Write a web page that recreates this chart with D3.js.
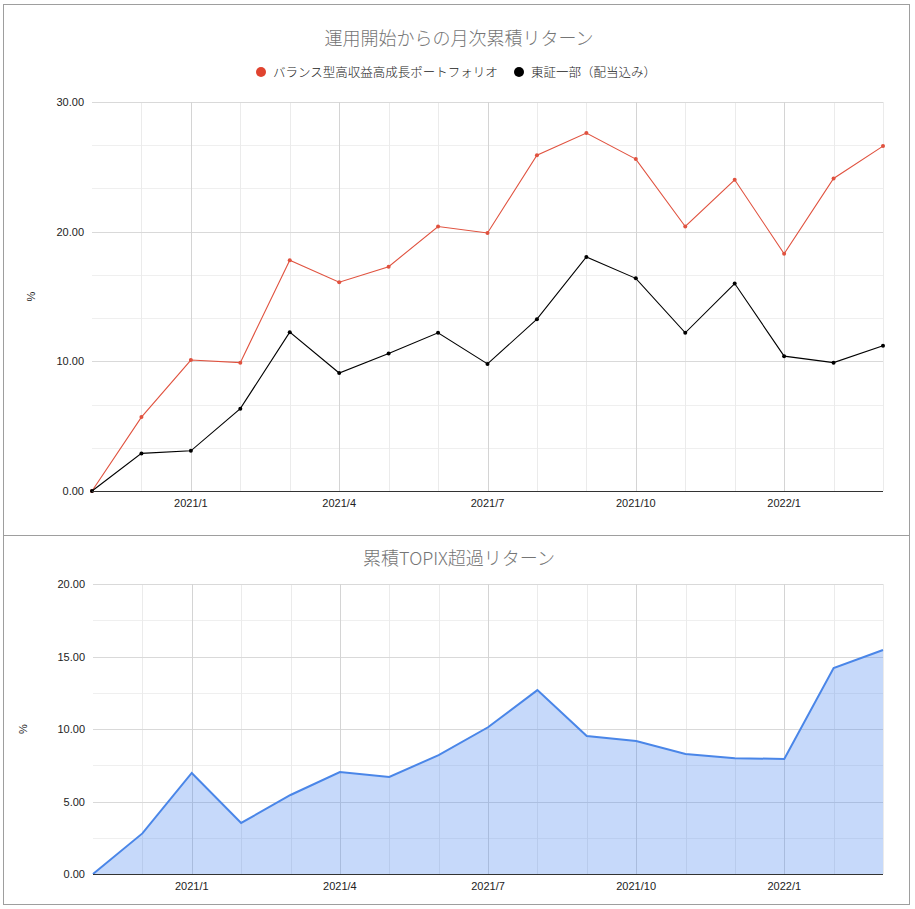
<!DOCTYPE html>
<meta charset="utf-8">
<title>累積リターン</title>
<style>
  body { margin: 0; background: #fff; }
  svg { display: block; font-family: "Liberation Sans", Arial, "Noto Sans CJK JP", sans-serif; }
</style>
<svg id="chart"></svg>
<script src="https://d3js.org/d3.v7.min.js"></script>
<script>
  // data
  var months = ["2020/11", "2020/12", "2021/1", "2021/2", "2021/3", "2021/4", "2021/5", "2021/6",
    "2021/7", "2021/8", "2021/9", "2021/10", "2021/11", "2021/12", "2022/1", "2022/2", "2022/3"];
  var tickMonths = ["2021/1", "2021/4", "2021/7", "2021/10", "2022/1"];
  var portfolio = [0, 5.7, 10.1, 9.9, 17.8, 16.1, 17.3, 20.4, 19.9, 25.9, 27.6, 25.6, 20.4, 24.0, 18.3, 24.1, 26.6];
  var topix = [0, 2.9, 3.1, 6.35, 12.25, 9.1, 10.6, 12.2, 9.8, 13.25, 18.05, 16.4, 12.2, 16.0, 10.4, 9.9, 11.2];
  var excess = [0, 2.8, 6.97, 3.52, 5.45, 7.03, 6.69, 8.2, 10.12, 12.68, 9.52, 9.17, 8.28, 7.99, 7.93, 14.2, 15.45];
  var seriesNames = ["バランス型高収益高成長ポートフォリオ", "東証一部（配当込み）"];
  var topTitle = "運用開始からの月次累積リターン";
  var bottomTitle = "累積TOPIX超過リターン";

  var W = 915, H = 909;
  var svg = d3.select('#chart').attr("width", W).attr("height", H);

  // boxes
  svg.append("rect").attr("x", 3.5).attr("y", 4.5).attr("width", 906).attr("height", 531)
    .attr("fill", "none").attr("stroke", "#9e9e9e");
  svg.append("rect").attr("x", 3.5).attr("y", 535.5).attr("width", 906).attr("height", 369)
    .attr("fill", "none").attr("stroke", "#9e9e9e");

  function drawFrame(x, y, yMajor, yMinor, titleText, titleY, pctX) {
    var g = svg.append("g");
    var x0 = x.range()[0], x1 = x.range()[1];
    var yb = y.range()[0];

    // minor grid
    g.selectAll(".hminor").data(yMinor).enter().append("line")
      .attr("x1", x0).attr("x2", x1)
      .attr("y1", function(d) {return Math.round(y(d)) + 0.5;})
      .attr("y2", function(d) {return Math.round(y(d)) + 0.5;})
      .attr("stroke", "#efefef");
    g.selectAll(".vminor").data(months.slice(1)).enter().append("line")
      .attr("x1", function(d) {return Math.round(x(d)) + 0.5;})
      .attr("x2", function(d) {return Math.round(x(d)) + 0.5;})
      .attr("y1", y.range()[1]).attr("y2", yb)
      .attr("stroke", "#ebebeb");
    // major grid
    g.selectAll(".hmajor").data(yMajor.slice(1)).enter().append("line")
      .attr("x1", x0).attr("x2", x1)
      .attr("y1", function(d) {return Math.round(y(d)) + 0.5;})
      .attr("y2", function(d) {return Math.round(y(d)) + 0.5;})
      .attr("stroke", "#d9d9d9");
    g.selectAll(".vmajor").data(tickMonths).enter().append("line")
      .attr("x1", function(d) {return Math.round(x(d)) + 0.5;})
      .attr("x2", function(d) {return Math.round(x(d)) + 0.5;})
      .attr("y1", y.range()[1]).attr("y2", yb)
      .attr("stroke", "#d4d4d4");

    // y labels
    g.selectAll(".ylab").data(yMajor).enter().append("text")
      .attr("x", x0 - 8).attr("y", function(d) {return y(d) + 4;})
      .attr("text-anchor", "end").attr("font-size", 11).attr("fill", "#222")
      .text(function(d) {return d3.format(".2f")(d);});
    // x labels
    g.selectAll(".xlab").data(tickMonths).enter().append("text")
      .attr("x", function(d) {return x(d);}).attr("y", yb + 16)
      .attr("text-anchor", "middle").attr("font-size", 11).attr("fill", "#222")
      .text(function(d) {return d;});

    // title
    svg.append("text").attr("x", 459).attr("y", titleY)
      .attr("text-anchor", "middle").attr("font-size", 18).attr("fill", "#757575")
      .attr("font-weight", 300)
      .style("font-family", "'Noto Sans CJK JP', sans-serif")
      .text(titleText);
    // axis title
    svg.append("text")
      .attr("transform", "translate(" + pctX + "," + ((y.range()[0] + y.range()[1]) / 2) + ") rotate(-90)")
      .attr("text-anchor", "middle").attr("font-size", 11).attr("fill", "#222")
      .text("%");
    return g;
  }

  function baseline(x, y) {
    svg.append("line").attr("x1", x.range()[0]).attr("x2", x.range()[1])
      .attr("y1", Math.round(y(0)) + 0.5).attr("y2", Math.round(y(0)) + 0.5)
      .attr("stroke", "#333");
  }

  // top chart
  var xTop = d3.scalePoint().domain(months).range([92, 883]);
  var yTop = d3.scaleLinear().domain([0, 30]).range([491, 102]);
  drawFrame(xTop, yTop, [0, 10, 20, 30], d3.range(1, 9).map(function(i) {return i * 10 / 3;}), topTitle, 45, 35);

  var lineTop = d3.line()
    .x(function(d, i) {return xTop(months[i]);})
    .y(function(d) {return yTop(d);});

  var seriesTop = [
    {values: portfolio, color: "#e0523f"},
    {values: topix, color: "#000"}
  ];
  seriesTop.forEach(function(s) {
    svg.append("path").attr("d", lineTop(s.values))
      .attr("fill", "none").attr("stroke", s.color).attr("stroke-width", 1.1);
    svg.selectAll(null).data(s.values).enter().append("circle")
      .attr("cx", function(d, i) {return xTop(months[i]);})
      .attr("cy", function(d) {return yTop(d);})
      .attr("r", 2).attr("fill", s.color);
  });
  baseline(xTop, yTop);

  // legend
  var legendX = [261, 519];
  var legendColors = ["#e0432f", "#000"];
  seriesNames.forEach(function(n, i) {
    svg.append("circle").attr("cx", legendX[i]).attr("cy", 72).attr("r", 5).attr("fill", legendColors[i]);
    svg.append("text").attr("x", legendX[i] + 12).attr("y", 77)
      .attr("font-size", 12.5).attr("fill", "#222").attr("font-weight", 300)
      .style("font-family", "'Noto Sans CJK JP', sans-serif")
      .text(n);
  });

  // bottom chart
  var xBot = d3.scalePoint().domain(months).range([93, 883]);
  var yBot = d3.scaleLinear().domain([0, 20]).range([874, 584]);
  drawFrame(xBot, yBot, [0, 5, 10, 15, 20], [2.5, 7.5, 12.5, 17.5], bottomTitle, 565, 27);

  var area = d3.area()
    .x(function(d, i) {return xBot(months[i]);})
    .y0(yBot(0))
    .y1(function(d) {return yBot(d);});
  var lineBot = d3.line()
    .x(function(d, i) {return xBot(months[i]);})
    .y(function(d) {return yBot(d);});
  svg.append("path").attr("d", area(excess)).attr("fill", "#4f89f0").attr("fill-opacity", 0.32);
  svg.append("path").attr("d", lineBot(excess)).attr("fill", "none")
    .attr("stroke", "#4a86e8").attr("stroke-width", 2);
  baseline(xBot, yBot);
</script>
